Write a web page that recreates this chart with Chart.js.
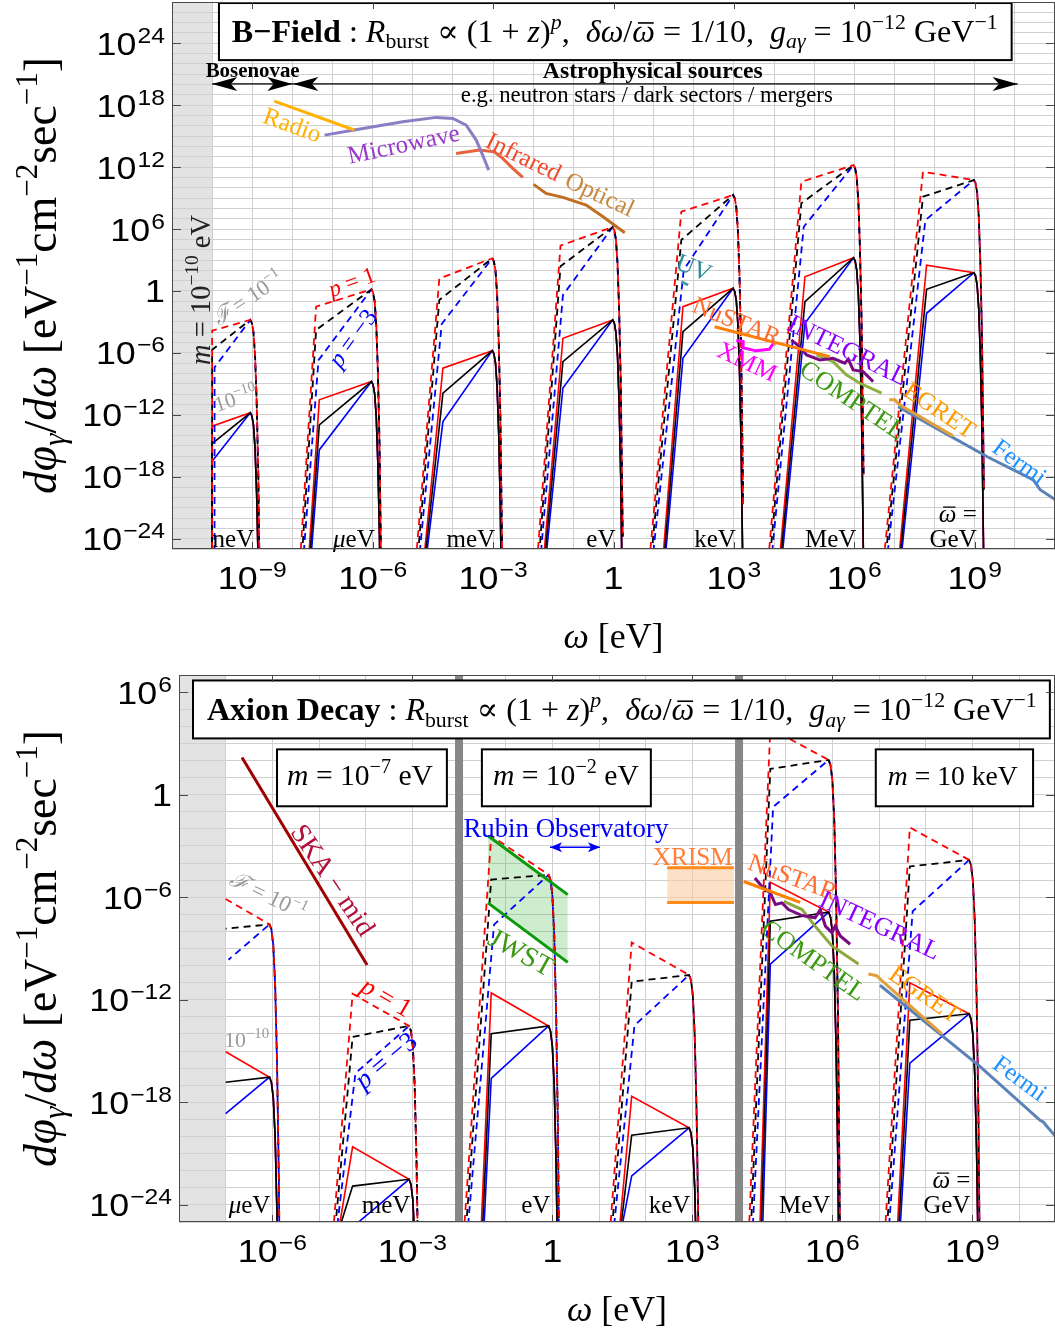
<!DOCTYPE html>
<html>
<head>
<meta charset="utf-8">
<script src="https://cdn.jsdelivr.net/npm/chart.js@4.4.1/dist/chart.umd.min.js"></script>
<style>
html, body { margin: 0; padding: 0; background: #fff; }
#wrap { position: relative; width: 1055px; height: 1335px; }
canvas { position: absolute; left: 0; }
#c1 { top: 0; }
#c2 { top: 660px; }
</style>
</head>
<body>
<div id="wrap">
<canvas id="c1" width="1055" height="660"></canvas>
<canvas id="c2" width="1055" height="675"></canvas>
</div>
<script>
// all values are log10 exponents (omega in eV, flux in eV^-1 cm^-2 s^-1)

// ---------- B-Field panel ----------
const bfNames   = ['neV', 'μeV', 'meV', 'eV', 'keV', 'MeV', 'GeV'];
const bfCenter  = [-9, -6, -3, 0, 3, 6, 9];
const bfMass    = -10;
const bfFootSolid = [null, -7.58, -4.70, -1.72, 1.25, 4.16, 7.13];
const bfFootDash  = [null, -7.79, -4.90, -1.88, 0.92, 3.88, 6.76];
const bfKinkW     = [-10, -7.33, -4.25, -1.26, 1.73, 4.77, 7.80];
const bfDashKinkW = [-10, -7.41, -4.34, -1.32, 1.69, 4.68, 7.71];
const bfPeakW     = [-9.05, -6.03, -3.02, -0.02, 2.98, 5.98, 8.98];
const bfSolidPeak  = [-11.8, -8.78, -5.78, -2.8, 0.26, 3.22, 1.77];
const bfSolidRed   = [-13.1, -10.55, -7.48, -4.58, -1.52, 1.38, 2.5];
const bfSolidBlack = [-14.8, -12.97, -9.9, -6.84, -3.94, -1.03, 0.16];
const bfSolidBlue  = [-16.5, -15.4, -12.65, -9.4, -6.5, -3.13, -2.16];
const bfDashPeak   = [-2.8, 0.16, 3.17, 6.2, 9.3, 12.2, 10.75];
const bfDashRed    = [-3.85, -1.52, 1.2, 4.4, 7.68, 10.58, 11.55];
const bfDashBlack  = [-5.7, -3.78, -0.87, 2.4, 4.94, 8.5, 9.13];
const bfDashBlue   = [-7.4, -6.7, -3.2, -0.4, 2.03, 6.22, 6.87];

const radioW = [-8.45, -6.46];
const radioF = [18.4, 15.6];
const microW = [-7.20, -6.46, -5.25, -4.42, -4.0, -3.67, -3.42, -3.26, -3.11];
const microF = [15.1, 15.59, 16.39, 16.82, 16.72, 16.07, 14.62, 13.17, 11.71];
const irW = [-3.92, -3.34, -2.97, -2.76, -2.51, -2.26];
const irF = [13.33, 13.65, 13.48, 12.85, 11.88, 11.0];
const optW = [-1.99, -1.68, -1.26, -0.68, -0.26, 0.28];
const optF = [10.33, 9.46, 9.07, 8.33, 7.19, 5.64];
const uvW = [1.69, 1.86];
const uvF = [0.9, 0.58];
const nustarW = [2.52, 5.39];
const nustarF = [-3.46, -6.36];
const xmmW = [3.06, 3.23, 3.23, 3.55, 3.88, 4.0];
const xmmF = [-4.8, -4.9, -5.5, -5.8, -5.65, -5.0];
const integralW = [4.43, 4.63, 4.81, 5.14, 5.47, 5.76, 5.85, 5.97, 6.22, 6.47];
const integralF = [-4.74, -5.39, -6.2, -6.68, -6.52, -7.0, -6.61, -7.65, -7.81, -8.78];
const comptelW = [5.06, 5.47, 5.8, 6.14, 6.68];
const comptelF = [-6.2, -6.84, -8.13, -8.94, -9.9];
const egretW = [6.87, 7.01, 7.13, 8.46];
const egretF = [-10.55, -10.55, -11.04, -14.04];
const fermiW = [7.09, 7.97, 9.3, 10.46, 10.63, 11.0];
const fermiF = [-11.2, -13.14, -16.04, -18.3, -19.26, -20.2];

// ---------- Axion decay panel ----------
const adNames   = ['μeV', 'meV', 'eV', 'keV', 'MeV', 'GeV'];
const adCenter  = [-6, -3, 0, 3, 6, 9];
const adMass    = -7;
const adFootSolid = [null, -4.55, -1.52, 1.45, 4.45, 7.40];
const adFootDash  = [null, -4.68, -1.88, 1.25, 4.22, 7.14];
const adKinkW     = [-7, -4.28, -1.31, 1.70, 4.67, 7.66];
const adPeakW     = [-6.06, -3.07, -0.08, 2.93, 5.92, 8.93];
const adSolidPeak  = [-16.53, -22.5, -13.53, -19.49, -6.87, -12.82];
const adSolidRed   = [-15.04, -20.6, -11.6, -17.65, -5.13, -11.0];
const adSolidBlack = [-16.82, -22.9, -13.98, -19.92, -7.4, -13.2];
const adSolidBlue  = [-18.66, -25.3, -16.6, -22.3, -9.91, -15.7];
const adDashPeak   = [-7.59, -13.53, -4.69, -10.55, 2.03, -3.82];
const adDashRed    = [-6.1, -11.65, -2.4, -8.65, 3.87, -1.92];
const adDashBlack  = [-7.84, -14.17, -4.97, -10.94, 1.51, -4.2];
const adDashBlue   = [-9.66, -16.3, -7.6, -13.5, -0.72, -6.82];

const skaW = [-6.65, -3.97];
const skaF = [2.17, -9.97];
const jwstW = [-1.38, 0.33];
const jwstHi = [-2.4, -5.85];
const jwstLo = [-6.33, -9.81];
const xrismW = [2.46, 3.89];
const xrismHi = [-4.27, -4.27];
const xrismLo = [-6.31, -6.31];
const nustar2W = [4.1, 5.31];
const nustar2F = [-5.08, -6.3];
const integral2W = [4.34, 4.49, 4.67, 4.78, 4.92, 5.06, 5.35, 5.63, 5.74, 5.85, 5.99, 6.06, 6.17, 6.38];
const integral2F = [-4.88, -5.37, -5.75, -6.43, -6.33, -6.72, -7.07, -7.2, -6.72, -7.69, -8.07, -7.69, -8.27, -8.75];
const comptel2W = [4.96, 5.35, 5.63, 5.99, 6.56];
const comptel2F = [-6.24, -6.72, -7.69, -8.85, -9.91];
const egret2W = [6.77, 6.95, 7.06, 8.34];
const egret2F = [-10.49, -10.59, -10.88, -13.98];
const fermi2W = [7.02, 9.16, 10.45, 10.52, 10.58, 10.77];
const fermi2F = [-11.15, -15.9, -19.05, -19.15, -19.35, -19.95];

// shape of the high-energy cut-off, offsets from the peak
const dropW = [0.04, 0.08, 0.12, 0.16, 0.2, 0.25];
const dropF = [-0.3, -1.2, -3.5, -8, -15, -30];

const SERIF = '"Liberation Serif", "DejaVu Serif", serif';
const SANS = '"Liberation Sans", "DejaVu Sans", sans-serif';

const L = v => Math.pow(10, v);
const P = (w, f) => ({ x: L(w), y: L(f) });

function line(ws, fs, color, width, extra) {
  return Object.assign({
    data: ws.map((w, i) => P(w, fs[i])),
    borderColor: color, backgroundColor: color, borderWidth: width,
    pointRadius: 0, fill: false, tension: 0, order: 0
  }, extra || {});
}

function curve(foot, kW, kF, pW, pF, yMin, vertical) {
  const pts = [];
  if (foot === null) { if (vertical) pts.push(P(kW, yMin)); }
  else pts.push(P(foot, yMin));
  pts.push(P(kW, kF), P(pW, pF));
  dropW.forEach((d, i) => pts.push(P(pW + d, pF + dropF[i])));
  return pts;
}

function groupSets(o) {
  const sets = [];
  o.center.forEach((c, g) => {
    const fs = o.footSolid[g], fd = o.footDash[g];
    const off = (f, d) => f === null ? null : f + d;
    const solid = (data, color) => ({ data, borderColor: color, borderWidth: 1.6, pointRadius: 0, fill: false, tension: 0, order: 2 });
    const dash = (data, color, ofs) => ({ data, borderColor: color, borderWidth: 1.8, borderDash: [7, 5], borderDashOffset: ofs, pointRadius: 0, fill: false, tension: 0, order: 1 });
    sets.push(dash(curve(fd, o.dashKinkW[g], o.dashRed[g], o.peakW[g], o.dashPeak[g], o.yMin, o.vertical), '#ff0000', 0));
    sets.push(dash(curve(off(fd, 0.04), o.dashKinkW[g], o.dashBlack[g], o.peakW[g], o.dashPeak[g], o.yMin, o.vertical), '#000000', 6));
    sets.push(dash(curve(off(fd, 0.08), o.dashKinkW[g] + 0.06, o.dashBlue[g], o.peakW[g], o.dashPeak[g], o.yMin, o.vertical), '#0000ff', 3));
    sets.push(solid(curve(off(fs, 0.03), o.kinkW[g], o.solidBlack[g], o.peakW[g], o.solidPeak[g], o.yMin, o.vertical), '#000000'));
    sets.push(solid(curve(fs, o.kinkW[g], o.solidRed[g], o.peakW[g], o.solidPeak[g], o.yMin, o.vertical), '#ff0000'));
    sets.push(solid(curve(off(fs, 0.06), o.kinkW[g], o.solidBlue[g], o.peakW[g], o.solidPeak[g], o.yMin, o.vertical), '#0000ff'));
  });
  return sets;
}

// ---------- rich text ----------
function segFont(st, size, fam) {
  const small = st.startsWith('sub') || st.startsWith('sup');
  const it = st === 'i' || st === 'subi' || st === 'supi' || st === 'bar';
  const px = small ? size * 0.68 : size;
  const dy = st.startsWith('sub') ? size * 0.2 : st.startsWith('sup') ? -size * 0.42 : 0;
  return { font: (it ? 'italic ' : '') + (st === 'b' ? 'bold ' : '') + px.toFixed(2) + 'px ' + fam, dy };
}
function richWidth(ctx, segs, size, fam) {
  let w = 0;
  segs.forEach(([t, st]) => { ctx.font = segFont(st, size, fam).font; w += ctx.measureText(t).width; });
  return w;
}
function drawRich(ctx, segs, x, y, o) {
  const fam = o.fam || SERIF;
  let size = o.size || 22;
  let w = richWidth(ctx, segs, size, fam);
  if (o.fit) { size *= o.fit / w; w = o.fit; }
  ctx.save();
  ctx.translate(x, y);
  if (o.rot) ctx.rotate(o.rot * Math.PI / 180);
  let cx = o.align === 'left' ? 0 : o.align === 'right' ? -w : -w / 2;
  const base = o.middle ? size * 0.32 : 0;
  ctx.fillStyle = o.color || '#000';
  ctx.textAlign = 'left';
  ctx.textBaseline = 'alphabetic';
  segs.forEach(([t, st]) => {
    const f = segFont(st, size, fam);
    ctx.font = f.font;
    const sw = ctx.measureText(t).width;
    ctx.fillText(t, cx, base + f.dy);
    if (st === 'bar') ctx.fillRect(cx + sw * 0.25, base - size * 0.62, sw * 0.7, Math.max(1, size * 0.05));
    cx += sw;
  });
  ctx.restore();
}
function powLabel(ctx, e, x, y, align) {
  const base = e === 0 ? '1' : '10';
  const sup = e === 0 ? '' : String(e).replace('-', '−');
  const k = 1.12;
  ctx.save();
  ctx.fillStyle = '#000';
  ctx.textAlign = 'left';
  ctx.textBaseline = 'alphabetic';
  ctx.font = '32px ' + SANS;
  const bw = ctx.measureText(base).width;
  ctx.font = '22px ' + SANS;
  const sw = sup ? ctx.measureText(sup).width + 1 : 0;
  const w = (bw + sw) * k;
  ctx.translate(align === 'right' ? x - w : x - w / 2, y);
  ctx.scale(k, 1);
  ctx.font = '32px ' + SANS;
  ctx.fillText(base, 0, 0);
  if (sup) { ctx.font = '22px ' + SANS; ctx.fillText(sup, bw + 1, -12); }
  ctx.restore();
}
function arrowHead(ctx, x, y, dir, len, half) {
  ctx.beginPath();
  ctx.moveTo(x, y);
  ctx.lineTo(x - dir * len, y - half);
  ctx.lineTo(x - dir * len * 0.75, y);
  ctx.lineTo(x - dir * len, y + half);
  ctx.closePath();
  ctx.fill();
}

const titleTail = [[' : ', 'r'], ['R', 'i'], ['burst', 'sub'], [' ∝ (1 + ', 'r'], ['z', 'i'], [')', 'r'], ['p', 'supi'],
  [',  ', 'r'], ['δω', 'i'], ['/', 'r'], ['ω', 'bar'], [' = 1/10,  ', 'r'], ['g', 'i'], ['aγ', 'subi'],
  [' = 10', 'r'], ['−12', 'sup'], [' GeV', 'r'], ['−1', 'sup']];
const yTitle = [['d', 'i'], ['φ', 'i'], ['γ', 'subi'], ['/', 'r'], ['d', 'i'], ['ω', 'i'], [' [eV', 'r'], ['−1', 'sup'],
  ['cm', 'r'], ['−2', 'sup'], ['sec', 'r'], ['−1', 'sup'], [']', 'r']];
const xTitle = [['ω', 'i'], [' [eV]', 'r']];
const fLabel = [['ℱ', 'i'], [' = 10', 'r'], ['−1', 'sup']];
const f10Label = [['10', 'r'], ['−10', 'sup']];

const topNotes = [
  { t: [['Radio', 'r']], at: [-8.0, 16.08], rot: 20, color: '#FFB000', size: 25 },
  { t: [['Microwave', 'r']], at: [-5.23, 14.23], rot: -12, color: '#9A3ACD', size: 25 },
  { t: [['Infrared', 'r']], at: [-2.24, 13.0], rot: 26, color: '#F04A2C', size: 25 },
  { t: [['Optical', 'r']], at: [-0.34, 9.37], rot: 25, color: '#C8873E', size: 25 },
  { t: [['UV', 'r']], at: [2.0, 2.27], rot: 22, color: '#2A8C96', size: 25 },
  { t: [['NuSTAR', 'r']], at: [3.07, -2.92], rot: 22, color: '#FF6D2E', size: 25 },
  { t: [['XMM', 'r']], at: [3.33, -6.86], rot: 25, color: '#FF00FF', size: 25 },
  { t: [['INTEGRAL', 'r']], at: [5.84, -5.73], rot: 26, color: '#8A00FF', size: 26 },
  { t: [['COMPTEL', 'r']], at: [5.96, -10.56], rot: 34, color: '#3C9A12', size: 26 },
  { t: [['EGRET', 'r']], at: [8.13, -11.54], rot: 34, color: '#FF9A00', size: 25 },
  { t: [['Fermi', 'r']], at: [10.12, -16.55], rot: 36, color: '#1E90FF', size: 25 },
  { t: fLabel, at: [-9.11, -0.69], rot: -34, color: '#9A9A9A', fit: 80 },
  { t: f10Label, at: [-9.41, -10.43], rot: -18, color: '#9A9A9A', fit: 44 },
  { t: [['p', 'i'], [' = 1', 'r']], at: [-6.52, 0.86], rot: -20, color: '#FF0000', fit: 48 },
  { t: [['p', 'i'], [' = −3', 'r']], at: [-6.50, -4.56], rot: -54, color: '#0000FF', fit: 65 },
  { t: [['m', 'i'], [' = 10', 'r'], ['−10', 'sup'], [' eV', 'r']], at: [-10.28, 0.1], rot: -90, color: '#222', fit: 150 },
  { t: [['Bosenovae', 'b']], at: [-8.99, 20.73], color: '#000', fit: 94, base: true },
  { t: [['Astrophysical sources', 'b']], at: [0.98, 20.63], color: '#000', fit: 220, base: true },
  { t: [['e.g. neutron stars / dark sectors / mergers', 'r']], at: [0.83, 18.3], color: '#000', fit: 372, base: true }
];
const topBoxes = [
  { box: [-9.83, 27.9, 9.92, 22.37], t: [['B−Field', 'b']].concat(titleTail), at: [0.03, 24.12], fit: 766 }
];

const botNotes = [
  { t: [['SKA − mid', 'r']], at: [-4.70, -5.0], rot: 56, color: '#B0103A', fit: 128 },
  { t: [['Rubin Observatory', 'r']], at: [0.29, -1.97], color: '#0000FF', fit: 205 },
  { t: [['JWST', 'r']], at: [-0.67, -9.22], rot: 29, color: '#3C9A12', fit: 70 },
  { t: [['XRISM', 'r']], at: [3.01, -3.66], color: '#FF7F3A', fit: 80 },
  { t: [['NuSTAR', 'r']], at: [5.15, -4.82], rot: 20, color: '#FF6D2E', size: 25 },
  { t: [['INTEGRAL', 'r']], at: [7.02, -7.64], rot: 25, color: '#8A00FF', size: 26 },
  { t: [['COMPTEL', 'r']], at: [5.60, -9.69], rot: 35, color: '#3C9A12', size: 26 },
  { t: [['EGRET', 'r']], at: [7.98, -11.68], rot: 35, color: '#FF9A00', size: 25 },
  { t: [['Fermi', 'r']], at: [10.02, -16.59], rot: 36, color: '#1E90FF', size: 25 },
  { t: fLabel, at: [-6.10, -5.89], rot: 26, color: '#9A9A9A', fit: 82 },
  { t: f10Label, at: [-6.55, -14.36], color: '#9A9A9A', fit: 45 },
  { t: [['p', 'i'], [' = 1', 'r']], at: [-3.55, -11.84], rot: 30, color: '#FF0000', fit: 54 },
  { t: [['p', 'i'], [' = −3', 'r']], at: [-3.57, -15.54], rot: -40, color: '#0000FF', fit: 72 }
];
const botBoxes = [
  { box: [-7.70, 6.68, 10.66, 3.29], t: [['Axion Decay', 'b']].concat(titleTail), at: [1.49, 4.35], fit: 830 },
  { box: [-5.90, 2.65, -2.26, -0.68], t: [['m', 'i'], [' = 10', 'r'], ['−7', 'sup'], [' eV', 'r']], at: [-4.12, 0.54], fit: 146 },
  { box: [-1.51, 2.65, 2.11, -0.68], t: [['m', 'i'], [' = 10', 'r'], ['−2', 'sup'], [' eV', 'r']], at: [0.29, 0.54], fit: 146 },
  { box: [6.93, 2.65, 10.30, -0.68], t: [['m', 'i'], [' = 10 keV', 'r']], at: [8.58, 0.54], fit: 130 }
];

function decor(cfg) {
  return {
    id: 'decor',
    beforeDraw(chart) {
      const { ctx, chartArea: a, scales } = chart;
      ctx.save();
      ctx.fillStyle = '#fff';
      ctx.fillRect(0, 0, chart.width, chart.height);
      ctx.fillStyle = '#e3e3e3';
      const xm = scales.x.getPixelForValue(L(cfg.mass));
      ctx.fillRect(a.left, a.top, xm - a.left, a.bottom - a.top);
      ctx.restore();
    },
    beforeDatasetsDraw(chart) {
      const { ctx, chartArea: a, scales } = chart;
      ctx.save();
      ctx.fillStyle = '#878787';
      (cfg.bars || []).forEach(b => {
        const x = scales.x.getPixelForValue(L(b));
        ctx.fillRect(x - 4, a.top, 8, a.bottom - a.top);
      });
      ctx.restore();
    },
    afterDatasetsDraw(chart) {
      const { ctx, chartArea: a, scales } = chart;
      const X = w => scales.x.getPixelForValue(L(w));
      const Y = f => scales.y.getPixelForValue(L(f));
      ctx.save();
      // arrows
      (cfg.arrows || []).forEach(ar => {
        const y = Y(ar.y);
        ctx.strokeStyle = ar.color; ctx.fillStyle = ar.color; ctx.lineWidth = ar.lw;
        ctx.beginPath(); ctx.moveTo(X(ar.from), y); ctx.lineTo(X(ar.to), y); ctx.stroke();
        ar.heads.forEach(([w, dir]) => arrowHead(ctx, X(w), y, dir, ar.len, ar.half));
      });
      // labels
      cfg.notes.forEach(n => {
        drawRich(ctx, n.t, X(n.at[0]), Y(n.at[1]), { rot: n.rot, color: n.color, size: n.size, fit: n.fit, middle: !n.base });
      });
      // boxes
      cfg.boxes.forEach(b => {
        const x0 = X(b.box[0]), y0 = Y(b.box[1]), x1 = X(b.box[2]), y1 = Y(b.box[3]);
        ctx.fillStyle = '#fff';
        ctx.fillRect(x0, y0, x1 - x0, y1 - y0);
        ctx.strokeStyle = '#000'; ctx.lineWidth = 2;
        ctx.strokeRect(x0, y0, x1 - x0, y1 - y0);
        drawRich(ctx, b.t, X(b.at[0]), Y(b.at[1]), { fit: b.fit, color: '#000' });
      });
      // group names
      cfg.names.forEach((nm, i) => {
        const segs = nm === 'μeV' ? [['μ', 'i'], ['eV', 'r']] : [[nm, 'r']];
        const x = X(cfg.center[i]) + cfg.nameDx;
        drawRich(ctx, segs, x, a.bottom - cfg.nameDy, { size: 25, align: 'right' });
        if (i === cfg.names.length - 1) drawRich(ctx, [['ω', 'bar'], [' =', 'r']], x, a.bottom - cfg.nameDy - 25, { size: 25, align: 'right' });
      });
      // frame and ticks
      ctx.strokeStyle = '#4a4a4a'; ctx.lineWidth = 1;
      ctx.strokeRect(a.left + 0.5, a.top + 0.5, a.right - a.left - 1, a.bottom - a.top - 1);
      ctx.beginPath();
      cfg.xMajors.forEach(e => {
        const x = Math.round(X(e)) + 0.5;
        ctx.moveTo(x, a.bottom); ctx.lineTo(x, a.bottom - 7);
        ctx.moveTo(x, a.top); ctx.lineTo(x, a.top + 7);
      });
      cfg.yMajors.forEach(e => {
        const y = Math.round(Y(e)) + 0.5;
        ctx.moveTo(a.left, y); ctx.lineTo(a.left + 9, y);
        ctx.moveTo(a.right, y); ctx.lineTo(a.right - 9, y);
      });
      ctx.stroke();
      cfg.xMajors.forEach(e => powLabel(ctx, e, X(e), a.bottom + 40, 'center'));
      cfg.yMajors.forEach(e => powLabel(ctx, e, a.left - 7, Y(e) + 11.5, 'right'));
      drawRich(ctx, xTitle, (a.left + a.right) / 2, a.bottom + 99, { fit: 100 });
      drawRich(ctx, yTitle, 56, (a.top + a.bottom) / 2, { fit: 437, rot: -90 });
      ctx.restore();
    }
  };
}

function decades(lo, hi) {
  const t = [];
  for (let e = Math.ceil(lo); e <= Math.floor(hi); e++) t.push({ value: L(e) });
  return t;
}

function makeChart(id, sets, ranges, padding, cfg) {
  return new Chart(document.getElementById(id).getContext('2d'), {
    type: 'line',
    data: { datasets: sets },
    options: {
      responsive: false, animation: false, devicePixelRatio: 1, events: [],
      layout: { padding },
      plugins: { legend: { display: false }, tooltip: { enabled: false }, filler: { drawTime: 'beforeDatasetsDraw' } },
      scales: {
        x: {
          type: 'logarithmic', min: L(ranges[0]), max: L(ranges[1]),
          afterBuildTicks: s => { s.ticks = decades(ranges[0], ranges[1]); },
          afterFit: s => { s.height = 0; },
          ticks: { display: false }, border: { display: false },
          grid: { color: '#d0d0d0', lineWidth: 1, drawTicks: false }
        },
        y: {
          type: 'logarithmic', min: L(ranges[2]), max: L(ranges[3]),
          afterBuildTicks: s => { s.ticks = decades(ranges[2], ranges[3]); },
          afterFit: s => { s.width = 0; },
          ticks: { display: false }, border: { display: false },
          grid: { color: '#d0d0d0', lineWidth: 1, drawTicks: false }
        }
      }
    },
    plugins: [decor(cfg)]
  });
}

// ---------- top chart ----------
const topSets = [
  line(radioW, radioF, '#FFB300', 3),
  line(microW, microF, '#8C7EC4', 3),
  line(irW, irF, '#E8603C', 3),
  line(optW, optF, '#C06E22', 3),
  line(uvW, uvF, '#4A9AB0', 3),
  line(xmmW, xmmF, '#FF00FF', 3),
  line(nustarW, nustarF, '#FF8000', 3),
  line(integralW, integralF, '#7A0A82', 3),
  line(comptelW, comptelF, '#8DB040', 3),
  line(egretW, egretF, '#E3A03A', 3),
  line(fermiW, fermiF, '#5B82B8', 3)
].concat(groupSets({
  center: bfCenter, footSolid: bfFootSolid, footDash: bfFootDash, kinkW: bfKinkW, dashKinkW: bfDashKinkW,
  peakW: bfPeakW, solidPeak: bfSolidPeak, solidRed: bfSolidRed, solidBlack: bfSolidBlack, solidBlue: bfSolidBlue,
  dashPeak: bfDashPeak, dashRed: bfDashRed, dashBlack: bfDashBlack, dashBlue: bfDashBlue, yMin: -25, vertical: true
}));

makeChart('c1', topSets, [-11, 11, -25, 28], { left: 172, top: 2, right: 0, bottom: 111 }, {
  mass: bfMass, names: bfNames, center: bfCenter, nameDx: 2, nameDy: 2,
  xMajors: [-9, -6, -3, 0, 3, 6, 9], yMajors: [24, 18, 12, 6, 0, -6, -12, -18, -24],
  notes: topNotes, boxes: topBoxes,
  arrows: [{ from: -10, to: 10.07, y: 20.06, color: '#000', lw: 1.2, len: 25, half: 7,
    heads: [[-10, -1], [-8.0, 1], [-7.98, -1], [10.07, 1]] }]
});

// ---------- bottom chart ----------
const botSets = [
  line(jwstW, jwstLo, '#0A9A0A', 3),
  line(xrismW, xrismLo, '#FF8A1A', 3),
  line(skaW, skaF, '#A00000', 3),
  line(nustar2W, nustar2F, '#FF8000', 3),
  line(integral2W, integral2F, '#7A0A82', 3),
  line(comptel2W, comptel2F, '#8DA83C', 3),
  line(egret2W, egret2F, '#E3A03A', 3),
  line(fermi2W, fermi2F, '#5B82B8', 3),
  line(jwstW, jwstHi, '#0A9A0A', 3, { fill: 0, backgroundColor: 'rgba(60,185,60,0.25)' }),
  line(xrismW, xrismHi, '#FF8A1A', 3, { fill: 1, backgroundColor: 'rgba(252,205,160,0.6)' })
];

makeChart('c2', botSets.concat(groupSets({
  center: adCenter, footSolid: adFootSolid, footDash: adFootDash, kinkW: adKinkW, dashKinkW: adKinkW,
  peakW: adPeakW, solidPeak: adSolidPeak, solidRed: adSolidRed, solidBlack: adSolidBlack, solidBlue: adSolidBlue,
  dashPeak: adDashPeak, dashRed: adDashRed, dashBlack: adDashBlack, dashBlue: adDashBlue, yMin: -25, vertical: false
})), [-8, 10.77, -25, 7], { left: 179, top: 15, right: 0, bottom: 113 }, {
  mass: adMass, names: adNames, center: adCenter, nameDx: -2, nameDy: 9, bars: [-2, 4],
  xMajors: [-6, -3, 0, 3, 6, 9], yMajors: [6, 0, -6, -12, -18, -24],
  notes: botNotes, boxes: botBoxes,
  arrows: [{ from: -0.05, to: 1.02, y: -3.07, color: '#0000FF', lw: 1.5, len: 12, half: 5,
    heads: [[-0.05, -1], [1.02, 1]] }]
});
</script>
</body>
</html>
